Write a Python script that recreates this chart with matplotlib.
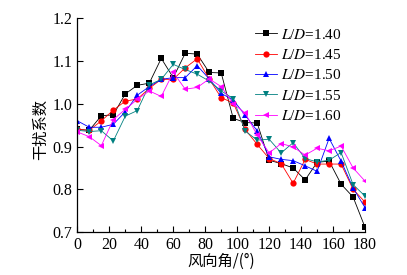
import matplotlib
matplotlib.use("Agg")
import matplotlib.pyplot as plt
import numpy as np

plt.rcParams['font.family'] = ['Liberation Serif', 'Noto Sans CJK SC']
plt.rcParams['mathtext.fontset'] = 'stix'

angles = [0, 7.5, 15, 22.5, 30, 37.5, 45, 52.5, 60, 67.5, 75, 82.5, 90,
          97.5, 105, 112.5, 120, 127.5, 135, 142.5, 150, 157.5, 165, 172.5, 180]

ld_140 = [0.940, 0.938, 0.972, 0.974, 1.023, 1.043, 1.048, 1.106, 1.061, 1.118, 1.116, 1.073, 1.072,
          0.966, 0.956, 0.955, 0.868, 0.860, 0.850, 0.822, 0.863, 0.866, 0.812, 0.782, 0.711]
ld_145 = [0.940, 0.938, 0.960, 0.985, 1.006, 1.011, 1.036, 1.057, 1.057, 1.084, 1.105, 1.058, 1.014,
          1.002, 0.940, 0.905, 0.872, 0.860, 0.814, 0.870, 0.859, 0.859, 0.859, 0.800, 0.770]
ld_150 = [0.960, 0.945, 0.945, 0.952, 0.981, 1.020, 1.040, 1.057, 1.061, 1.061, 1.089, 1.058, 1.024,
          1.009, 0.973, 0.937, 0.876, 0.870, 0.867, 0.855, 0.842, 0.919, 0.866, 0.803, 0.757]
ld_155 = [0.938, 0.935, 0.937, 0.913, 0.971, 0.984, 1.044, 1.057, 1.092, 1.080, 1.069, 1.053, 1.030,
          1.012, 0.936, 0.915, 0.917, 0.885, 0.909, 0.872, 0.864, 0.868, 0.886, 0.811, 0.784]
ld_160 = [0.934, 0.923, 0.902, 0.963, 0.987, 1.010, 1.030, 1.017, 1.073, 1.034, 1.038, 1.058, 1.040,
          1.000, 0.978, 0.927, 0.885, 0.907, 0.899, 0.880, 0.896, 0.890, 0.901, 0.850, 0.819]

labels = [r'$L$/$D$=1.40', r'$L$/$D$=1.45', r'$L$/$D$=1.50', r'$L$/$D$=1.55', r'$L$/$D$=1.60']
series = [ld_140, ld_145, ld_150, ld_155, ld_160]
colors = ['#000000', '#ff0000', '#0000ff', '#008080', '#ff00ff']
markers = ['s', 'o', '^', 'v', '<']

xticks = [0, 20, 40, 60, 80, 100, 120, 140, 160, 180]
yticks = [0.7, 0.8, 0.9, 1.0, 1.1, 1.2]

fig = plt.figure(figsize=(4.07, 2.75), dpi=100)
ax = fig.add_axes([0.190, 0.156, 0.707, 0.778])

for ys, lab, c, m in zip(series, labels, colors, markers):
    ax.plot(angles, ys, color=c, marker=m, markersize=4.5, linewidth=0.6,
            markeredgewidth=0, label=lab)

ax.set_xlim(0, 180)
ax.set_ylim(0.7, 1.2)
ax.set_xticks(xticks)
ax.set_xticks(np.arange(10, 180, 20), minor=True)
ax.set_yticks(yticks)
ax.set_yticklabels([f'{v:.1f}' for v in yticks])
ax.tick_params(direction='in', which='both', labelsize=11.5, width=0.8)
ax.tick_params(which='major', length=4)
ax.tick_params(which='minor', length=2.5)
ax.spines['top'].set_visible(False)
ax.spines['right'].set_visible(False)
for s in ['left', 'bottom']:
    ax.spines[s].set_linewidth(0.9)

ax.set_xlabel('风向角/(°)', fontsize=11, family=['Noto Sans CJK SC', 'DejaVu Sans'], labelpad=0)
fig.text(40 / 407, 1 - 130 / 275, '干扰系数', rotation=90, ha='center', va='center',
         fontsize=11, family=['Noto Sans CJK SC'])

leg = ax.legend(loc='upper left', bbox_to_anchor=(0.618, 0.956), frameon=False, fontsize=11,
                handlelength=1.45, handletextpad=0.26, labelspacing=0.42,
                borderaxespad=0, borderpad=0)

fig.savefig('out.png', dpi=100)
